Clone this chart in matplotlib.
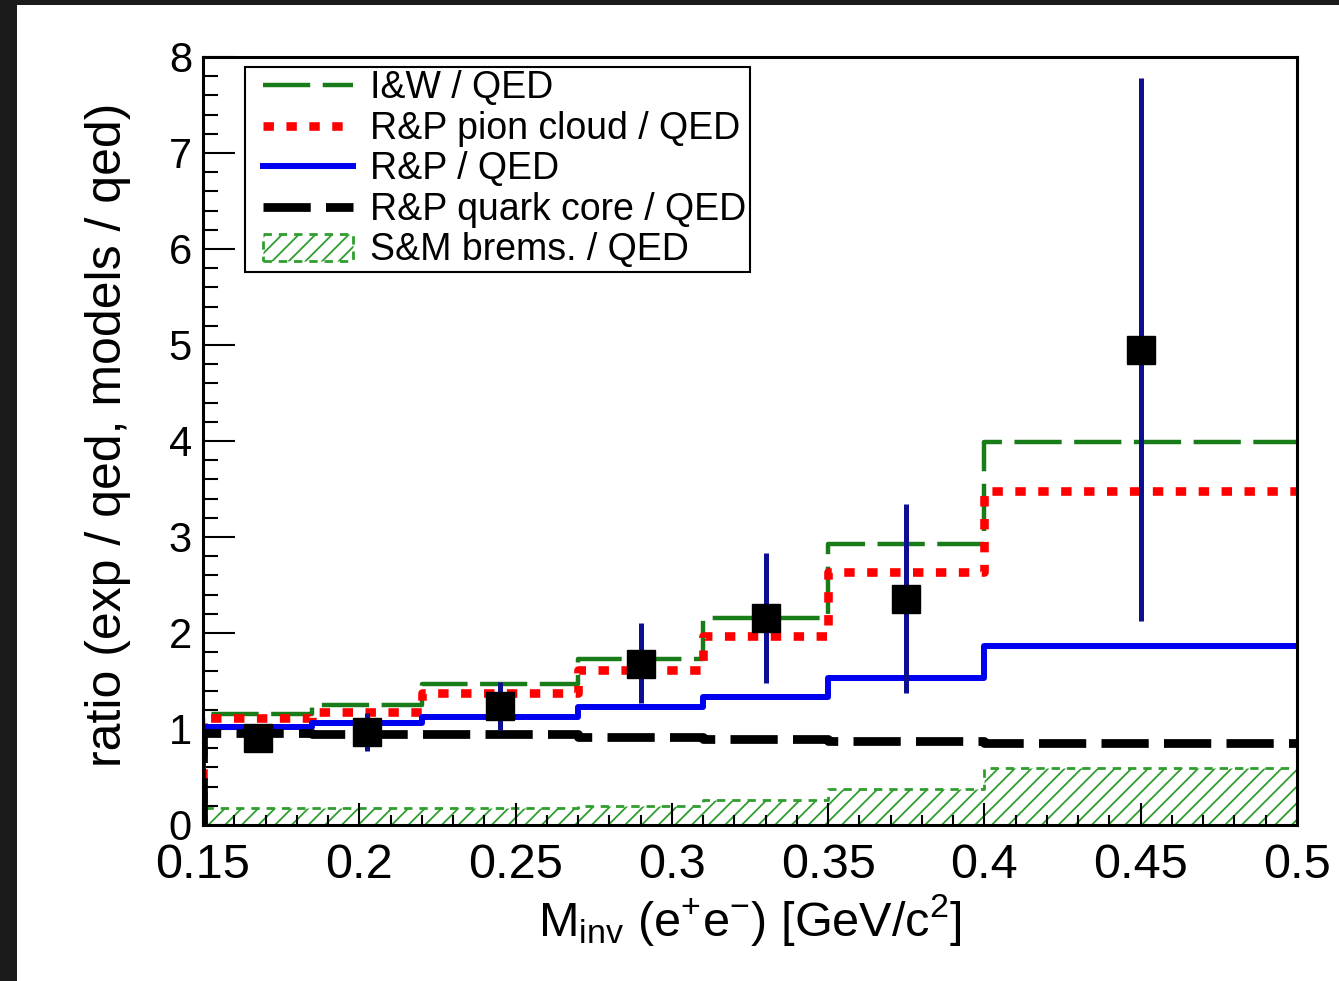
import numpy as np
import matplotlib
matplotlib.use("Agg")
import matplotlib.pyplot as plt
from matplotlib.patches import Rectangle
from matplotlib.ticker import MultipleLocator, FixedLocator
from matplotlib.legend_handler import HandlerLine2D, HandlerPolyCollection
from matplotlib.collections import PolyCollection
from matplotlib.lines import Line2D

plt.rcParams['font.family'] = ['Liberation Sans', 'DejaVu Sans']
plt.rcParams['mathtext.fontset'] = 'custom'
plt.rcParams['mathtext.rm'] = 'Liberation Sans'
plt.rcParams['mathtext.it'] = 'Liberation Sans:italic'
plt.rcParams['mathtext.bf'] = 'Liberation Sans:bold'
plt.rcParams['lines.scale_dashes'] = False
plt.rcParams['hatch.linewidth'] = 1.3

# ---------------- data ----------------
bin_edges = [0.15, 0.185, 0.22, 0.27, 0.31, 0.35, 0.40, 0.50]
iw_qed = [1.16, 1.25, 1.47, 1.73, 2.16, 2.93, 3.99]
rp_pion_qed = [1.11, 1.18, 1.38, 1.61, 1.97, 2.64, 3.48]
rp_qed = [1.02, 1.06, 1.13, 1.23, 1.33, 1.53, 1.86]
rp_quark_qed = [0.96, 0.95, 0.95, 0.92, 0.90, 0.87, 0.85]
sm_brems_qed = [0.18, 0.18, 0.18, 0.20, 0.26, 0.37, 0.59]

exp_x = [0.1675, 0.2025, 0.245, 0.29, 0.33, 0.375, 0.45]
exp_y = [0.91, 0.97, 1.24, 1.68, 2.16, 2.35, 4.95]
exp_err_lo = [0.08, 0.20, 0.25, 0.41, 0.68, 0.97, 2.82]
exp_err_hi = [0.08, 0.20, 0.25, 0.42, 0.67, 0.99, 2.83]

x_ticks = [0.15, 0.2, 0.25, 0.3, 0.35, 0.4, 0.45, 0.5]
x_tick_labels = ['0.15', '0.2', '0.25', '0.3', '0.35', '0.4', '0.45', '0.5']
y_ticks = [0, 1, 2, 3, 4, 5, 6, 7, 8]

labels = ['I&W / QED', 'R&P pion cloud / QED', 'R&P / QED',
          'R&P quark core / QED', 'S&M brems. / QED']

# ---------------- figure ----------------
W, H = 1339, 981
fig = plt.figure(figsize=(W / 100, H / 100), dpi=100, facecolor='#1b1b1b')
fig.add_artist(Rectangle((17 / W, 0), 1 - 17 / W, (H - 5) / H,
                         transform=fig.transFigure, facecolor='white',
                         edgecolor='none', zorder=-5))
ax = fig.add_axes([203 / W, (H - 825) / H, (1297 - 203) / W, (825 - 57) / H])


def hist_line(values, **kw):
    e = np.asarray(bin_edges, dtype=float)
    v = np.asarray(values, dtype=float)
    xs = np.r_[e[0], e]
    ys = np.r_[0.0, v, v[-1]]
    return ax.step(xs, ys, where='post', **kw)[0]


# hatched S&M brems
e = np.asarray(bin_edges)
sm = np.asarray(sm_brems_qed)
hatch = ax.fill_between(e, 0, np.r_[sm, sm[-1]], step='post', facecolor='none',
                        edgecolor='#2f9e2f', hatch='//', linewidth=2.0,
                        linestyle=(0, (6, 5)), zorder=1, label=labels[4])

l_iw = hist_line(iw_qed, color='#187c18', lw=3.2, linestyle=(0, (34, 9)),
                 solid_capstyle='butt', dash_capstyle='butt', zorder=2, label=labels[0])
l_pion = hist_line(rp_pion_qed, color='#ff0000', lw=6.2, linestyle=(0, (7.5, 9)),
                   dash_capstyle='butt', zorder=3, label=labels[1])
l_rp = hist_line(rp_qed, color='#0000f0', lw=4.3, zorder=4, label=labels[2])
l_quark = hist_line(rp_quark_qed, color='black', lw=6.3, linestyle=(0, (34, 11)),
                    dash_capstyle='butt', zorder=5, label=labels[3])

ax.errorbar(exp_x, exp_y, yerr=[exp_err_lo, exp_err_hi], fmt='s', color='black',
            ms=20, ecolor='#0e0e92', elinewidth=3.6, capsize=0, zorder=6)

ax.set_xlim(0.15, 0.5)
ax.set_ylim(0, 8)
ax.xaxis.set_major_locator(FixedLocator(x_ticks))
ax.set_xticklabels(x_tick_labels)
ax.xaxis.set_minor_locator(MultipleLocator(0.01))
ax.yaxis.set_major_locator(FixedLocator(y_ticks))
ax.yaxis.set_minor_locator(MultipleLocator(0.2))

ax.tick_params(axis='both', which='both', direction='in', top=False, right=False,
               color='black', width=1.5)
ax.tick_params(axis='y', which='major', length=23, labelsize=30, pad=8)
ax.tick_params(axis='y', which='minor', length=11)
ax.tick_params(axis='x', which='major', length=16, labelsize=35, pad=13)
ax.tick_params(axis='x', which='minor', length=7)

for s in ax.spines.values():
    s.set_linewidth(2.2)
    s.set_zorder(10)

ax.set_ylabel('ratio (exp / qed, models / qed)', fontsize=36)
ax.yaxis.set_label_coords(-0.066, 0.508)
ax.set_xlabel(r'M$_{\mathrm{inv}}$ (e$^{+}$e$^{-}$) [GeV/c$^{2}$]', fontsize=35)
ax.xaxis.set_label_coords(0.5, -0.087)

leg = ax.legend(handles=[l_iw, l_pion, l_rp, l_quark, hatch], labels=labels,
                loc='upper left', bbox_to_anchor=((245 - 203) / 1094, (825 - 67) / 768),
                borderaxespad=0, fontsize=27, frameon=True, fancybox=False,
                framealpha=1, edgecolor='black', borderpad=0.093, labelspacing=0.12,
                handlelength=2.79, handletextpad=0.45, handleheight=0.75,
                handler_map={Line2D: HandlerLine2D(xpad=0.39),
                             PolyCollection: HandlerPolyCollection(xpad=0.39)})
leg.get_frame().set_linewidth(1.5)
leg.set_zorder(20)

fig.savefig('out.png', dpi=100, facecolor=fig.get_facecolor())
